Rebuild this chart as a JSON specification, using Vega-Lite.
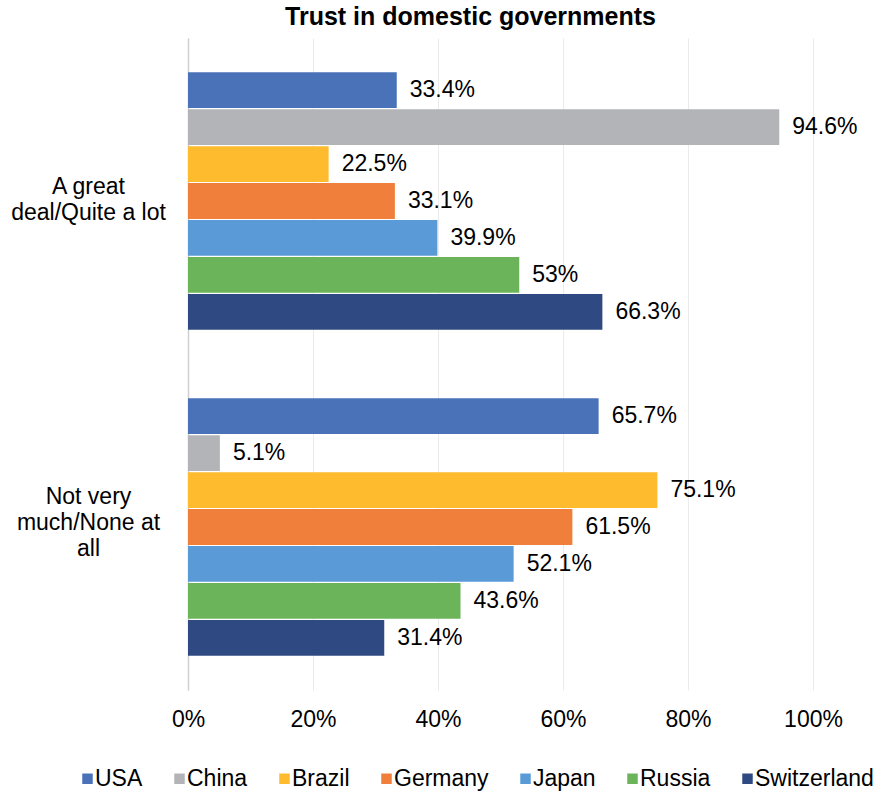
{
  "$schema": "https://vega.github.io/schema/vega-lite/v6.json",
  "width": 625,
  "height": 652,
  "autosize": {"type": "none"},
  "padding": {"left": 188, "top": 38, "right": 74, "bottom": 104},
  "background": "white",
  "config": {
    "font": "Liberation Sans",
    "view": {"stroke": null}
  },
  "title": {
    "text": "Trust in domestic governments",
    "fontSize": 25,
    "fontWeight": "bold",
    "font": "Liberation Sans",
    "color": "#000000",
    "anchor": "middle",
    "dx": -30,
    "offset": 8
  },
  "data": {
    "values": [
      {"category": "A great deal/Quite a lot", "country": "USA", "value": 33.4},
      {"category": "A great deal/Quite a lot", "country": "China", "value": 94.6},
      {"category": "A great deal/Quite a lot", "country": "Brazil", "value": 22.5},
      {"category": "A great deal/Quite a lot", "country": "Germany", "value": 33.1},
      {"category": "A great deal/Quite a lot", "country": "Japan", "value": 39.9},
      {"category": "A great deal/Quite a lot", "country": "Russia", "value": 53},
      {"category": "A great deal/Quite a lot", "country": "Switzerland", "value": 66.3},
      {"category": "Not very much/None at all", "country": "USA", "value": 65.7},
      {"category": "Not very much/None at all", "country": "China", "value": 5.1},
      {"category": "Not very much/None at all", "country": "Brazil", "value": 75.1},
      {"category": "Not very much/None at all", "country": "Germany", "value": 61.5},
      {"category": "Not very much/None at all", "country": "Japan", "value": 52.1},
      {"category": "Not very much/None at all", "country": "Russia", "value": 43.6},
      {"category": "Not very much/None at all", "country": "Switzerland", "value": 31.4}
    ]
  },
  "transform": [{"calculate": "datum.value + '%'", "as": "label"}],
  "encoding": {
    "y": {
      "field": "category",
      "type": "nominal",
      "sort": null,
      "title": null,
      "scale": {"paddingInner": 0.21, "paddingOuter": 0.105},
      "axis": {
        "labelExpr": "datum.label == 'A great deal/Quite a lot' ? ['A great', 'deal/Quite a lot'] : ['Not very', 'much/None at', 'all']",
        "ticks": false,
        "domain": true,
        "domainColor": "#D0D0D0",
        "domainWidth": 1.5,
        "labelAlign": "center",
        "labelBaseline": "middle",
        "labelOffset": {"condition": {"test": "datum.label == 'A great deal/Quite a lot'", "value": -14}, "value": -30},
        "labelPadding": 100,
        "labelFontSize": 23,
        "labelLineHeight": 26,
        "labelColor": "#000000",
        "labelFont": "Liberation Sans"
      }
    },
    "yOffset": {
      "field": "country",
      "type": "nominal",
      "sort": ["USA", "China", "Brazil", "Germany", "Japan", "Russia", "Switzerland"],
      "scale": {"paddingInner": 0.03, "paddingOuter": 0}
    },
    "x": {
      "field": "value",
      "type": "quantitative",
      "title": null,
      "scale": {"domain": [0, 100], "nice": false},
      "axis": {
        "values": [0, 20, 40, 60, 80, 100],
        "labelExpr": "datum.value + '%'",
        "labelFlush": false,
        "grid": true,
        "gridColor": "#EBEBEB",
        "domain": false,
        "ticks": false,
        "labelPadding": 18,
        "labelFontSize": 23,
        "labelColor": "#000000",
        "labelFont": "Liberation Sans"
      }
    }
  },
  "layer": [
    {
      "mark": {"type": "bar"},
      "encoding": {
        "color": {
          "field": "country",
          "type": "nominal",
          "sort": ["USA", "China", "Brazil", "Germany", "Japan", "Russia", "Switzerland"],
          "scale": {
            "domain": ["USA", "China", "Brazil", "Germany", "Japan", "Russia", "Switzerland"],
            "range": ["#4A72B8", "#B2B4B7", "#FDBB2D", "#EF7F3B", "#5A9AD6", "#6BB45A", "#2F4A82"]
          },
          "legend": {
            "title": null,
            "orient": "none",
            "direction": "horizontal",
            "legendX": -112,
            "legendY": 729,
            "symbolType": "square",
            "symbolSize": 110,
            "symbolStrokeWidth": 0,
            "labelFontSize": 23,
            "labelFont": "Liberation Sans",
            "labelColor": "#000000",
            "labelOffset": -4,
            "columnPadding": 25,
            "labelLimit": 300
          }
        }
      }
    },
    {
      "mark": {
        "type": "text",
        "align": "left",
        "baseline": "middle",
        "dx": 13,
        "fontSize": 23,
        "font": "Liberation Sans",
        "color": "#000000"
      },
      "encoding": {
        "text": {"field": "label", "type": "nominal"}
      }
    }
  ]
}
